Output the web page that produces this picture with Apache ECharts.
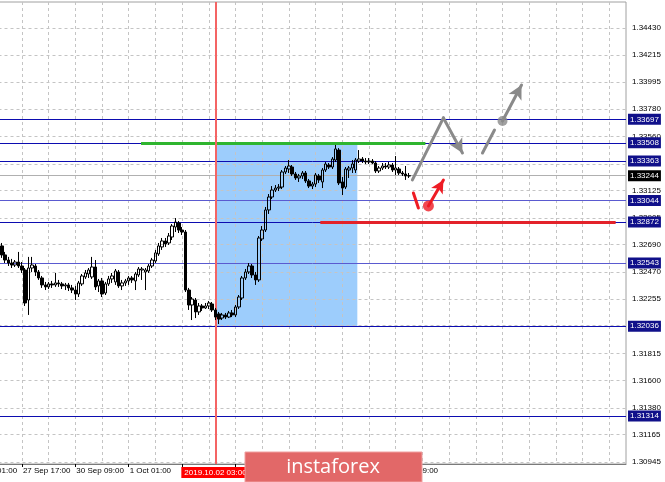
<!DOCTYPE html>
<html><head><meta charset="utf-8">
<script src="https://cdn.jsdelivr.net/npm/echarts/dist/echarts.min.js"></script>
<style>html,body{margin:0;padding:0;background:#fff}#c{width:665px;height:482px}</style>
</head><body><div id="c"></div>
<script>
// ---- data (H1 candles) ----
const firstBar = 9; // index of the first candle in the category list
const opens = [1.32648,1.32680,1.32608,1.32567,1.32543,1.32527,1.32551,1.32519,1.32487,1.32246,1.32503,1.32519,1.32471,1.32423,1.32367,1.32351,1.32375,1.32367,1.32383,1.32375,1.32359,1.32367,1.32343,1.32326,1.32294,1.32375,1.32431,1.32455,1.32431,1.32511,1.32359,1.32399,1.32302,1.32375,1.32415,1.32391,1.32471,1.32359,1.32383,1.32399,1.32423,1.32399,1.32447,1.32487,1.32471,1.32479,1.32519,1.32559,1.32616,1.32672,1.32720,1.32704,1.32752,1.32832,1.32864,1.32808,1.32792,1.32326,1.32206,1.32246,1.32150,1.32198,1.32182,1.32198,1.32214,1.32166,1.32134,1.32101,1.32126,1.32109,1.32142,1.32126,1.32190,1.32262,1.32423,1.32471,1.32519,1.32447,1.32407,1.32736,1.32808,1.32969,1.33073,1.33129,1.33145,1.33153,1.33274,1.33298,1.33314,1.33258,1.33226,1.33242,1.33266,1.33202,1.33161,1.33177,1.33242,1.33194,1.33290,1.33330,1.33314,1.33370,1.33450,1.33194,1.33153,1.33290,1.33306,1.33290,1.33362,1.33378,1.33362,1.33354,1.33362,1.33346,1.33282,1.33306,1.33322,1.33314,1.33330,1.33290,1.33298,1.33266,1.33258,1.33242];
const closes = [1.32688,1.32608,1.32567,1.32543,1.32527,1.32551,1.32519,1.32487,1.32222,1.32503,1.32527,1.32471,1.32423,1.32367,1.32351,1.32375,1.32367,1.32383,1.32375,1.32359,1.32367,1.32343,1.32326,1.32294,1.32383,1.32439,1.32463,1.32487,1.32511,1.32351,1.32399,1.32294,1.32375,1.32415,1.32439,1.32479,1.32359,1.32383,1.32399,1.32423,1.32407,1.32455,1.32495,1.32495,1.32487,1.32519,1.32567,1.32624,1.32680,1.32720,1.32696,1.32760,1.32840,1.32872,1.32808,1.32792,1.32326,1.32206,1.32254,1.32150,1.32198,1.32182,1.32198,1.32222,1.32166,1.32109,1.32093,1.32126,1.32109,1.32142,1.32126,1.32190,1.32270,1.32423,1.32471,1.32519,1.32447,1.32407,1.32744,1.32808,1.32969,1.33073,1.33129,1.33145,1.33153,1.33274,1.33306,1.33322,1.33258,1.33226,1.33242,1.33266,1.33202,1.33161,1.33177,1.33250,1.33210,1.33290,1.33338,1.33314,1.33378,1.33459,1.33186,1.33145,1.33298,1.33306,1.33338,1.33370,1.33378,1.33362,1.33354,1.33362,1.33346,1.33282,1.33306,1.33322,1.33314,1.33330,1.33290,1.33306,1.33266,1.33258,1.33242,1.33244];
const lows = [1.32632,1.32584,1.32543,1.32519,1.32503,1.32511,1.32503,1.32463,1.32198,1.32126,1.32471,1.32439,1.32407,1.32343,1.32326,1.32334,1.32343,1.32351,1.32351,1.32334,1.32326,1.32318,1.32302,1.32246,1.32270,1.32359,1.32415,1.32423,1.32415,1.32326,1.32310,1.32270,1.32286,1.32359,1.32383,1.32367,1.32343,1.32326,1.32359,1.32367,1.32383,1.32326,1.32431,1.32407,1.32326,1.32463,1.32503,1.32543,1.32600,1.32648,1.32672,1.32688,1.32728,1.32792,1.32784,1.32768,1.32310,1.32166,1.32085,1.32101,1.32126,1.32158,1.32174,1.32174,1.32150,1.32085,1.32053,1.32085,1.32093,1.32101,1.32109,1.32109,1.32174,1.32246,1.32407,1.32455,1.32423,1.32367,1.32391,1.32720,1.32792,1.32937,1.33057,1.33113,1.33121,1.33137,1.33258,1.33266,1.33242,1.33210,1.33194,1.33218,1.33186,1.33145,1.33137,1.33153,1.33186,1.33145,1.33274,1.33298,1.33298,1.33354,1.33169,1.33089,1.33137,1.33226,1.33266,1.33266,1.33346,1.33346,1.33338,1.33338,1.33338,1.33266,1.33266,1.33290,1.33298,1.33298,1.33274,1.33250,1.33250,1.33242,1.33210,1.33226];
const highs = [1.32704,1.32704,1.32632,1.32592,1.32576,1.32567,1.32632,1.32551,1.32503,1.32592,1.32592,1.32535,1.32487,1.32439,1.32391,1.32391,1.32399,1.32463,1.32407,1.32391,1.32383,1.32383,1.32367,1.32359,1.32399,1.32455,1.32487,1.32503,1.32592,1.32567,1.32415,1.32423,1.32391,1.32439,1.32463,1.32495,1.32487,1.32407,1.32415,1.32439,1.32439,1.32471,1.32511,1.32511,1.32503,1.32535,1.32584,1.32648,1.32704,1.32744,1.32744,1.32784,1.32856,1.32904,1.32880,1.32832,1.32808,1.32343,1.32270,1.32262,1.32222,1.32214,1.32222,1.32238,1.32230,1.32182,1.32150,1.32142,1.32142,1.32158,1.32166,1.32206,1.32286,1.32439,1.32495,1.32543,1.32535,1.32471,1.32760,1.32840,1.32993,1.33097,1.33161,1.33169,1.33177,1.33290,1.33322,1.33370,1.33330,1.33274,1.33258,1.33282,1.33282,1.33218,1.33194,1.33266,1.33258,1.33306,1.33354,1.33346,1.33394,1.33491,1.33466,1.33234,1.33314,1.33322,1.33370,1.33386,1.33450,1.33394,1.33386,1.33386,1.33378,1.33362,1.33322,1.33346,1.33346,1.33354,1.33346,1.33402,1.33314,1.33282,1.33322,1.33266];

const tickValues = [1.34430,1.34215,1.33995,1.33780,1.33560,1.33340,1.33125,1.32905,1.32690,1.32470,1.32255,1.32040,1.31815,1.31600,1.31380,1.31165,1.30945];
const levels = [1.33697,1.33508,1.33363,1.33044,1.32872,1.32543,1.32036,1.31314];
const lightLevels = [1.33044,1.32543];
const currentPrice = 1.33244;
const markedTime = '2019.10.02 03:00';
const markedIndex = 74;
const boxRange = {fromIndex: 74, toIndex: 116.5, low: 1.32036, high: 1.33508};
const greenLevel = {price: 1.33506, from: 51.7, to: 136.9};
const redLevel = {price: 1.32872, from: 105.4, to: 193.9};
const grayPath = [[133.0,1.33210],[142.3,1.33708],[148.0,1.33426]];
const grayDash = [[154.0,1.33426],[157.6,1.33611]];
const grayPoint = [160.0,1.33683];
const grayTarget = [165.7,1.33972];
const redDash = [[133.3,1.33105],[134.8,1.32985]];
const redPoint = [137.8,1.33001];
const redTarget = [142.3,1.33210];
const priceMin = 1.30929, priceMax = 1.34639;
const slotCount = 198;

// ---- categories: hourly bars, weekends skipped ----
const monthNames = ['Jan','Feb','Mar','Apr','May','Jun','Jul','Aug','Sep','Oct','Nov','Dec'];
const categories = [];
let t = Date.UTC(2019, 8, 27, 1);
while (categories.length < slotCount) {
  const d = new Date(t);
  const wd = d.getUTCDay();
  if (wd !== 0 && wd !== 6) {
    categories.push(d.getUTCDate() + ' ' + monthNames[d.getUTCMonth()] + ' ' + String(d.getUTCHours()).padStart(2, '0') + ':00');
  }
  t += 3600000;
}

const candleData = categories.map((c, i) => {
  const k = i - firstBar;
  if (k < 0 || k >= opens.length) return '-';
  return [opens[k], closes[k], lows[k], highs[k]];
});

const FONT = "'Liberation Sans', Arial, sans-serif";
const labelFn = (idx) => idx % 16 === 0 && idx <= 128;

const chart = echarts.init(document.getElementById('c'), null, {renderer: 'canvas'});
chart.setOption({
  animation: false,
  backgroundColor: '#ffffff',
  grid: {left: -31.5, right: 39, top: 2, bottom: 18, show: true, borderColor: '#a0a0a0', borderWidth: 1,
    backgroundColor: 'transparent', containLabel: false, outerBoundsMode: 'none'},
  xAxis: [{
    type: 'category', data: categories, boundaryGap: false, z: 3,
    axisLine: {lineStyle: {color: '#7a7a7a'}},
    axisTick: {show: true, interval: labelFn, length: 3, lineStyle: {color: '#000'}},
    axisLabel: {interval: labelFn, align: 'left', margin: 3, fontSize: 8, color: '#000', fontFamily: FONT, padding: [0,0,0,1], hideOverlap: false},
    splitLine: {show: true, interval: (idx) => idx % 8 === 0, lineStyle: {color: '#c4c4c4', type: [3, 3], width: 1}}
  }, {
    type: 'value', min: 0, max: slotCount - 1, show: false
  }],
  yAxis: [{
    type: 'value', position: 'right', min: priceMin, max: priceMax, scale: true,
    axisLine: {show: true, lineStyle: {color: '#000'}},
    axisTick: {show: true, customValues: tickValues, length: 3, lineStyle: {color: '#000'}},
    axisLabel: {show: true, customValues: tickValues, margin: 6, fontSize: 8, color: '#000', fontFamily: FONT,
      formatter: v => Number(v).toFixed(5)},
    splitLine: {show: false}
  }],
  series: [
    { // highlighted box
      type: 'line', xAxisIndex: 1, data: [], z: 1, silent: true,
      markArea: {silent: true, itemStyle: {color: '#9dcdfc', borderWidth: 0},
        data: [[{xAxis: boxRange.fromIndex, yAxis: boxRange.low}, {xAxis: boxRange.toIndex, yAxis: boxRange.high}]]}
    },
    { // price grid lines at the tick values
      type: 'line', xAxisIndex: 0, data: [], z: 2, silent: true,
      markLine: {symbol: ['none', 'none'], silent: true, animation: false, precision: 6,
        lineStyle: {color: '#c4c4c4', type: [3, 3], width: 1},
        label: {show: false},
        data: tickValues.map(v => ({yAxis: v}))}
    },
    { // horizontal levels with boxed labels
      type: 'line', xAxisIndex: 0, data: [], z: 4, silent: true,
      markLine: {symbol: ['none', 'none'], silent: true, animation: false, precision: 6,
        label: {position: 'end', distance: 2, color: '#fff', fontSize: 8, fontFamily: FONT, padding: [1, 2, 1, 2], lineHeight: 9,
          formatter: p => Number(p.value).toFixed(5)},
        data: levels.map(v => ({yAxis: v,
          lineStyle: {color: lightLevels.includes(v) ? '#5a5ad0' : '#0c0cb0', width: 1, type: 'solid'},
          label: {backgroundColor: '#10108a'}}))
          .concat([{yAxis: currentPrice, lineStyle: {color: '#b0b0b0', width: 1, type: 'solid'}, label: {backgroundColor: '#000'}}])}
    },
    {
      type: 'candlestick', xAxisIndex: 0, z: 5, data: candleData, barWidth: 3,
      itemStyle: {color: 'rgba(0,0,0,0)', color0: '#000', borderColor: '#000', borderColor0: '#000', borderWidth: 1}
    },
    { // green and red horizontal segments + time marker
      type: 'line', xAxisIndex: 1, data: [], z: 8, silent: true,
      markLine: {symbol: ['none', 'none'], silent: true, animation: false, precision: 6,
        label: {show: false},
        data: [
          [{coord: [greenLevel.from, greenLevel.price], lineStyle: {color: '#2fb52f', width: 3, type: 'solid'}}, {coord: [greenLevel.to, greenLevel.price]}],
          [{coord: [redLevel.from, redLevel.price], lineStyle: {color: '#e3222a', width: 3, type: 'solid'}}, {coord: [redLevel.to, redLevel.price]}],
          [{coord: [markedIndex, priceMin], lineStyle: {color: '#f46464', width: 2, type: 'solid'},
            label: {show: true, position: 'start', distance: 3, formatter: markedTime, color: '#fff', backgroundColor: '#ff0000',
              fontSize: 8, fontFamily: FONT, padding: [2, 3, 1, 3]}},
           {coord: [markedIndex, priceMax]}]
        ]}
    },
    { // gray forecast arrows
      type: 'line', xAxisIndex: 1, data: [], z: 6, silent: true,
      markLine: {symbol: ['none', 'none'], silent: true, animation: false, label: {show: false}, precision: 6,
        lineStyle: {color: '#8a8a8a', width: 3, type: 'solid', cap: 'round'},
        data: [
          [{coord: grayPath[0]}, {coord: grayPath[1]}],
          [{coord: grayPath[1]}, {coord: grayPath[2], symbol: 'arrow', symbolSize: [11, 14]}],
          [{coord: grayDash[0]}, {coord: grayDash[1]}],
          [{coord: grayPoint}, {coord: grayTarget, symbol: 'arrow', symbolSize: [11, 14]}]
        ]}
    },
    { // red forecast arrows
      type: 'line', xAxisIndex: 1, data: [], z: 6, silent: true,
      markLine: {symbol: ['none', 'none'], silent: true, animation: false, label: {show: false}, precision: 6,
        lineStyle: {color: '#ee1c24', width: 3, type: 'solid', cap: 'round'},
        data: [
          [{coord: redDash[0]}, {coord: redDash[1]}],
          [{coord: redPoint}, {coord: redTarget, symbol: 'arrow', symbolSize: [10, 13]}]
        ]}
    },
    {type: 'scatter', xAxisIndex: 1, z: 7, silent: true, data: [grayPoint], symbolSize: 10, itemStyle: {color: '#8a8a8a'}},
    {type: 'scatter', xAxisIndex: 1, z: 7, silent: true, data: [redPoint], symbolSize: 11, itemStyle: {color: '#ee1c24'}}
  ],
  graphic: [
    {type: 'rect', z: 100, shape: {x: 245, y: 452, width: 177, height: 30},
      style: {fill: '#e26868', stroke: '#f0a0a0', lineWidth: 1}},
    {type: 'text', z: 101, x: 333, y: 467,
      style: {text: 'instaforex', fill: '#ffffff', font: "20px 'Open Sans', sans-serif", align: 'center', verticalAlign: 'middle'}}
  ]
});
</script>
</body></html>
